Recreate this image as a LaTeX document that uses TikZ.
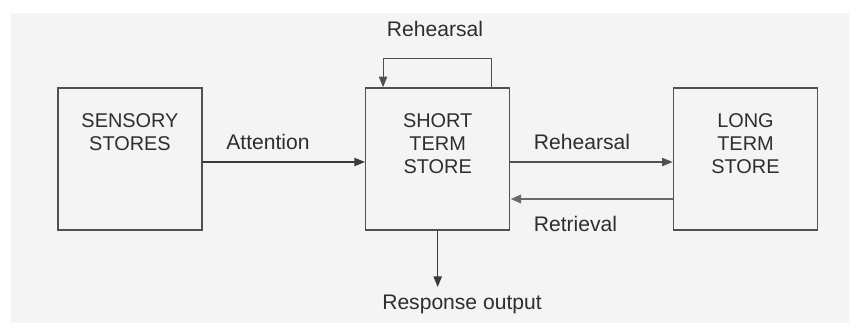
\documentclass[tikz,border=0pt]{standalone}
\usepackage{fontspec}
\setmainfont{Liberation Sans}
\usetikzlibrary{arrows.meta,positioning}

\definecolor{paper}{HTML}{F4F4F4}
\definecolor{boxgray}{HTML}{505050}
\definecolor{inkgray}{HTML}{2E2E2E}
\definecolor{linegray}{HTML}{3A3A3A}

\tikzset{
  store/.style={draw=boxgray, line width=1.3pt, minimum width=4.32cm, minimum height=4.26cm, inner sep=0pt},
  storetext/.style={align=center, text=inkgray, font=\fontsize{17}{19.6}\selectfont, anchor=north, inner sep=0pt},
  lbl/.style={text=inkgray, font=\fontsize{18}{20}\selectfont, inner sep=0pt, anchor=base},
  flow/.style={draw=linegray, line width=1.2pt, -{Triangle[length=9pt,width=7pt]}},
}

\begin{document}
\begin{tikzpicture}[x=0.03cm, y=-0.03cm]
\useasboundingbox (0,0) rectangle (849,325);
\fill[white] (0,0) rectangle (849,325);
\fill[paper] (11,13) rectangle (849,323);

% the three stores
\node[store] (sens) at (130,159) {};
\node[store] (sts) at (437.7,159) {};
\node[store] (lts) at (745.5,159) {};
\node[storetext] (senstxt) at (130,113) {SENSORY\\STORES};
\node[storetext] (ststxt) at (437.7,113) {SHORT\\TERM\\STORE};
\node[storetext] (ltstxt) at (745.5,113) {LONG\\TERM\\STORE};

% labels
\node[lbl] (att) at (268,149) {Attention};
\node[lbl] (reh) at (582,149) {Rehearsal};
\node[lbl] (ret) at (575.5,231) {Retrieval};
\node[lbl] (loop) at (435,36) {Rehearsal};
\node[lbl] (resp) at (462,309) {Response output};
\coordinate (out) at (437.7,287);

% arrows
\draw[flow] ([yshift=-0.09cm]sens.east) -- ([yshift=-0.09cm]sts.west);
\draw[flow, line width=0.9pt, draw=boxgray] ([yshift=-0.09cm]sts.east) -- ([yshift=-0.09cm]lts.west);
\draw[flow, line width=2.4pt, draw=boxgray!85] ([yshift=-1.2cm]lts.west) -- ([yshift=-1.2cm]sts.east);
\draw[flow, line width=0.9pt, draw=boxgray] ([xshift=1.62cm]sts.north) -- ++(0,-29) -| ([xshift=-1.64cm]sts.north);
\draw[flow] (sts.south) -- (out);
\end{tikzpicture}
\end{document}
